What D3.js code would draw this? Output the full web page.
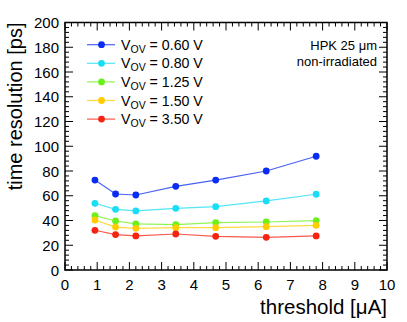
<!DOCTYPE html>
<html>
<head>
<meta charset="utf-8">
<script src="https://cdn.jsdelivr.net/npm/d3@7"></script>
<style>
  body { margin: 0; background: #fff; }
  text { font-family: "Liberation Sans", Arial, sans-serif; fill: #000; }
</style>
</head>
<body>
<div id="chart"></div>
<script>
const thresholds = [0.93, 1.57, 2.2, 3.44, 4.68, 6.25, 7.8];
const res060 = [72.7, 61.4, 60.6, 67.6, 72.7, 80.0, 91.9];
const res080 = [53.9, 49.0, 47.7, 49.8, 51.2, 55.8, 61.2];
const res125 = [43.9, 39.6, 37.2, 36.6, 38.3, 38.8, 39.9];
const res150 = [40.4, 34.7, 33.7, 34.2, 34.2, 35.0, 36.1];
const res350 = [32.1, 28.6, 27.5, 29.1, 27.2, 26.4, 27.5];
const seriesLabels = ["0.60 V", "0.80 V", "1.25 V", "1.50 V", "3.50 V"];
const seriesColors = ["#0a2cf2", "#19dcf5", "#6cf01a", "#ffcc00", "#f5230f"];
const yTicks = [0, 20, 40, 60, 80, 100, 120, 140, 160, 180, 200];
const xTicks = [0, 1, 2, 3, 4, 5, 6, 7, 8, 9, 10];

const W = 407, H = 322;
const M = {left: 65, right: 20, top: 22.5, bottom: 52};
const pw = W - M.left - M.right, ph = H - M.top - M.bottom;

const svg = d3.select("#chart").append("svg")
    .attr("width", W).attr("height", H);

const x = d3.scaleLinear().domain([0, 10]).range([0, pw]);
const y = d3.scaleLinear().domain([0, 200]).range([ph, 0]);

const g = svg.append("g").attr("transform", `translate(${M.left},${M.top})`);

// ticks (ROOT style, inside)
const xMinor = d3.range(0, 10.001, 0.2);
const yMinor = d3.range(0, 200.001, 4);
const tg = g.append("g").attr("stroke", "#000").attr("stroke-width", 1);
xMinor.forEach(v => {
    const major = Math.abs(v - Math.round(v)) < 1e-6;
    const len = major ? 8 : 4;
    tg.append("line").attr("x1", x(v)).attr("x2", x(v)).attr("y1", ph).attr("y2", ph - len);
    tg.append("line").attr("x1", x(v)).attr("x2", x(v)).attr("y1", 0).attr("y2", len);
});
yMinor.forEach(v => {
    const major = Math.abs(v % 20) < 1e-6;
    const len = major ? 8 : 4;
    tg.append("line").attr("y1", y(v)).attr("y2", y(v)).attr("x1", 0).attr("x2", len);
    tg.append("line").attr("y1", y(v)).attr("y2", y(v)).attr("x1", pw).attr("x2", pw - len);
});

g.append("rect").attr("width", pw).attr("height", ph)
    .attr("fill", "none").attr("stroke", "#000").attr("stroke-width", 1.5);

// tick labels
g.selectAll(".xl").data(xTicks).join("text")
    .attr("x", d => x(d)).attr("y", ph + 20)
    .attr("text-anchor", "middle").attr("font-size", 15).text(d => d);
g.selectAll(".yl").data(yTicks).join("text")
    .attr("x", -6).attr("y", d => y(d) + 5.5)
    .attr("text-anchor", "end").attr("font-size", 15).text(d => d);

// axis titles
svg.append("text").attr("x", M.left + pw).attr("y", 314)
    .attr("text-anchor", "end").attr("font-size", 20.5).text("threshold [\u03bcA]");
svg.append("text").attr("transform", `translate(22,${M.top}) rotate(-90)`)
    .attr("text-anchor", "end").attr("font-size", 20).text("time resolution [ps]");

// series
const allSeries = [res060, res080, res125, res150, res350];
const line = d3.line().x(d => x(d[0])).y(d => y(d[1]));
allSeries.forEach((vals, i) => {
    const pts = thresholds.map((t, j) => [t, vals[j]]);
    g.append("path").datum(pts).attr("d", line)
        .attr("fill", "none").attr("stroke", seriesColors[i])
        .attr("stroke-width", 1.2).attr("stroke-opacity", 0.75);
    g.selectAll(null).data(pts).join("circle")
        .attr("cx", d => x(d[0])).attr("cy", d => y(d[1]))
        .attr("r", 3.4).attr("fill", seriesColors[i]);
});

// legend
const lg = svg.append("g");
seriesLabels.forEach((lab, i) => {
    const ly = 44.7 + i * 18.6;
    lg.append("line").attr("x1", 87).attr("x2", 115).attr("y1", ly).attr("y2", ly)
        .attr("stroke", seriesColors[i]).attr("stroke-width", 1.2).attr("stroke-opacity", 0.75);
    lg.append("circle").attr("cx", 101.5).attr("cy", ly).attr("r", 3.4).attr("fill", seriesColors[i]);
    const t = lg.append("text").attr("x", 121).attr("y", ly + 5).attr("font-size", 14.2);
    t.append("tspan").text("V");
    t.append("tspan").attr("font-size", 10.5).attr("dy", 3).text("OV");
    t.append("tspan").attr("dy", -3).text(" = " + lab);
});

// annotation
svg.append("text").attr("x", 377).attr("y", 50).attr("text-anchor", "end")
    .attr("font-size", 13).text("HPK 25 \u03bcm");
svg.append("text").attr("x", 377).attr("y", 65.5).attr("text-anchor", "end")
    .attr("font-size", 13).text("non-irradiated");
</script>
</body>
</html>
